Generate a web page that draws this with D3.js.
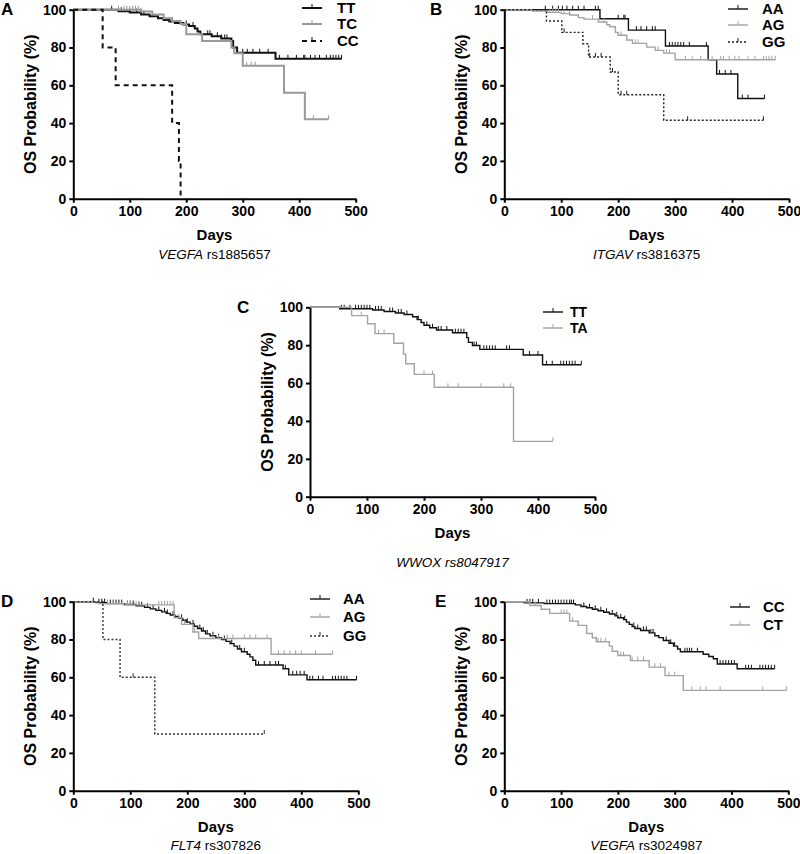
<!DOCTYPE html>
<html><head><meta charset="utf-8">
<script src="https://cdn.jsdelivr.net/npm/d3@7"></script>
<style>
body{margin:0;background:#fff;}
text{font-family:"Liberation Sans",Arial,sans-serif;}
</style></head>
<body><svg id="c" width="800" height="854"></svg>
<script>
// ---------- DATA (days, OS probability %) ----------
const xTicks = [0,100,200,300,400,500];
const yTicks = [0,20,40,60,80,100];

// Panel A: VEGFA rs1885657
const aTT_events = [[80,99.2],[100,98.5],[120,97.5],[135,96.5],[150,95.5],[160,94.5],[170,93.8],[180,93],[195,92.2],[205,91.4],[215,90],[220,88.5],[225,87],[245,86],[262,84.8],[280,83.5],[283,80],[290,77.2],[358,74]];
const aTT_censor = [68,85,100,112,125,140,175,200,212,238,242,255,262,268,272,300,308,318,330,345,365,380,395,408,410,420,428,436,448,455,460,465,470,475];
const aTT_end = 475;
const aTC_events = [[120,99],[140,97.5],[160,95.5],[175,94],[190,92.5],[200,87],[228,83.5],[280,80],[285,77],[300,70.3],[373,56],[410,42]];
const aTC_censor = [80,90,95,100,105,110,115,120,307,315,322,425,452];
const aTC_end = 452;
const aCC_events = [[52,80],[75,60],[175,40],[187,20],[190,0]];
const aCC_censor = [];
const aCC_end = 190;

// Panel B: ITGAV rs3816375
const bAA_events = [[168,95.2],[218,89.2],[283,80.8],[358,73.5],[373,66],[410,53]];
const bAA_censor = [72,85,95,102,110,120,130,140,160,165,200,210,212,232,240,250,260,265,290,295,300,305,310,315,325,355,378,388,398,418,428,457];
const bAA_end = 457;
const bAG_events = [[50,99.3],[75,98.6],[100,97.9],[115,97.2],[130,95.8],[140,95],[165,93.5],[180,92],[185,91],[195,88],[200,86.5],[215,84],[225,82.2],[250,80.2],[265,78.5],[280,77],[300,73.5]];
const bAG_censor = [80,85,90,95,105,115,155,175,205,230,235,270,285,290,318,330,345,365,380,385,395,405,412,428,440,455,460,465,470,476];
const bAG_end = 476;
const bGG_events = [[74,94],[101,88],[138,82],[148,75],[186,67],[200,55],[280,41.5]];
const bGG_censor = [105,150,160,170,190,205,215,322,455];
const bGG_end = 455;

// Panel C: WWOX rs8047917
const cTT_events = [[52,99.2],[110,98.6],[130,97.8],[150,97],[165,96.2],[180,95],[188,93.5],[195,92],[200,90.5],[210,89.2],[222,88],[250,86.6],[275,84],[278,81.5],[285,79.8],[298,77.8],[374,74.8],[408,69.7]];
const cTT_censor = [55,60,70,80,85,90,95,100,105,115,120,125,140,145,155,160,170,190,205,215,225,230,240,255,260,265,270,288,292,305,310,315,320,325,345,350,385,400,415,425,440,445,450,455,460,465,476];
const cTT_end = 476;
const cTA_events = [[73,95.6],[101,91.3],[114,86.1],[147,81],[164,75.3],[168,70.2],[183,64.6],[218,57.8],[357,29.2]];
const cTA_censor = [90,120,130,200,215,242,260,300,340,352,426];
const cTA_end = 426;

// Panel D: FLT4 rs307826
const dAA_events = [[40,99.5],[60,99],[90,98.5],[110,97.8],[125,97],[135,96.2],[145,95.4],[155,94.6],[163,93.8],[170,93],[178,92.2],[185,91.2],[192,90.2],[198,89.2],[205,88.2],[212,87],[218,85.8],[225,84.5],[232,83],[240,82],[250,81],[260,80],[268,79],[275,77.8],[282,76.5],[288,75],[295,73.5],[305,72.2],[310,70.8],[315,69],[320,66.5],[368,64.5],[378,61.3],[410,58.7]];
const dAA_censor = [35,45,50,55,65,70,75,80,85,95,100,105,115,120,130,140,150,160,165,175,190,200,210,222,228,235,245,255,265,278,292,300,325,335,345,355,360,372,385,392,398,405,415,420,430,438,455,460,465,470,475,480,497];
const dAA_end = 497;
const dAG_events = [[45,99],[88,98.3],[177,91.5],[190,88],[210,84],[220,80.5],[347,72.2]];
const dAG_censor = [60,70,95,100,110,115,150,155,160,165,170,175,185,195,213,245,255,270,280,300,310,320,340,360,370,380,390,400,425,455];
const dAG_end = 455;
const dGG_events = [[52,80],[82,60],[143,30]];
const dGG_censor = [105,335];
const dGG_end = 335;

// Panel E: VEGFA rs3024987
const eCC_events = [[35,99.4],[70,99],[125,98.3],[135,97.5],[145,96.8],[155,96],[165,95.2],[175,94.4],[185,93.5],[195,92.5],[200,91.5],[210,90.5],[215,89.2],[220,88],[225,86.8],[230,85.8],[240,84.8],[255,83.5],[265,82],[272,81],[280,79.5],[290,78],[298,76.5],[305,75],[310,73.5],[350,72.2],[360,71],[368,69.8],[375,67],[410,64.5]];
const eCC_censor = [40,45,50,60,75,80,85,90,95,100,105,110,115,118,122,140,150,160,170,180,190,198,205,212,228,235,245,250,258,262,285,293,300,318,322,326,330,340,380,385,390,395,400,405,425,430,435,450,455,460,465,470,476];
const eCC_end = 476;
const eCT_events = [[45,98],[65,96],[80,93.8],[115,89.7],[130,87.5],[145,83.2],[155,80.9],[162,78.8],[185,76.5],[190,73.8],[200,71.5],[222,68.8],[255,65.4],[283,60.9],[315,53.1]];
const eCT_censor = [55,100,105,110,120,165,170,178,205,210,225,235,245,265,275,290,300,330,345,355,380,455,497];
const eCT_end = 497;

// ---------- LAYOUT / STYLE ----------
const BLACK = "#111", GRAY = "#a3a3a3", GRAYA = "#999";
const panels = [
  {label:"A", lx:1, ly:15, x0:73.3, x1:355.7, yT:9.7, yB:198.7, gene:"VEGFA", rs:" rs1885657", allItalic:false,
   leg:{x1:302,x2:322,tx:337,ys:[8,24,41],fs:15}, yt:30, subDy:60,
   series:[
    {name:"TT",ev:aTT_events,ce:aTT_censor,end:aTT_end,color:BLACK,w:2,dash:null},
    {name:"TC",ev:aTC_events,ce:aTC_censor,end:aTC_end,color:GRAYA,w:2,dash:null},
    {name:"CC",ev:aCC_events,ce:aCC_censor,end:aCC_end,color:BLACK,w:2,dash:"5,4"}]},
  {label:"B", lx:430, ly:15, x0:504.3, x1:789, yT:9.7, yB:198.7, gene:"ITGAV", rs:" rs3816375", allItalic:false,
   leg:{x1:728,x2:748,tx:762,ys:[9,25,42],fs:15}, yt:461, subDy:60,
   series:[
    {name:"AA",ev:bAA_events,ce:bAA_censor,end:bAA_end,color:BLACK,w:1.4,dash:null},
    {name:"AG",ev:bAG_events,ce:bAG_censor,end:bAG_end,color:GRAY,w:1.4,dash:null},
    {name:"GG",ev:bGG_events,ce:bGG_censor,end:bGG_end,color:"#222",w:1.4,dash:"2,2"}]},
  {label:"C", lx:237, ly:313, x0:310, x1:595, yT:307.3, yB:496.7, gene:"WWOX", rs:" rs8047917", allItalic:true,
   leg:{x1:543,x2:563,tx:570,ys:[312,328],fs:14}, yt:267, subDy:70,
   series:[
    {name:"TT",ev:cTT_events,ce:cTT_censor,end:cTT_end,color:BLACK,w:1.4,dash:null},
    {name:"TA",ev:cTA_events,ce:cTA_censor,end:cTA_end,color:GRAY,w:1.4,dash:null}]},
  {label:"D", lx:1, ly:607, x0:73.3, x1:358.3, yT:601.7, yB:790.7, gene:"FLT4", rs:" rs307826", allItalic:false,
   leg:{x1:310,x2:330,tx:343,ys:[599,617,636],fs:15}, yt:30, subDy:59,
   series:[
    {name:"AA",ev:dAA_events,ce:dAA_censor,end:dAA_end,color:BLACK,w:1.4,dash:null},
    {name:"AG",ev:dAG_events,ce:dAG_censor,end:dAG_end,color:GRAY,w:1.4,dash:null},
    {name:"GG",ev:dGG_events,ce:dGG_censor,end:dGG_end,color:"#333",w:1.4,dash:"2,2"}]},
  {label:"E", lx:435, ly:607, x0:504.3, x1:788.3, yT:601.7, yB:790.7, gene:"VEGFA", rs:" rs3024987", allItalic:false,
   leg:{x1:730,x2:750,tx:763,ys:[607,625],fs:15}, yt:461, subDy:59,
   series:[
    {name:"CC",ev:eCC_events,ce:eCC_censor,end:eCC_end,color:BLACK,w:1.4,dash:null},
    {name:"CT",ev:eCT_events,ce:eCT_censor,end:eCT_end,color:GRAY,w:1.4,dash:null}]}
];

const svg = d3.select("#c");
const FONT = "'Liberation Sans',Arial,sans-serif";

function survAt(ev, t){
  let s = 100;
  for(const e of ev){ if(e[0] <= t) s = e[1]; }
  return s;
}

panels.forEach(p => {
  const x = d3.scaleLinear().domain([0,500]).range([p.x0,p.x1]);
  const y = d3.scaleLinear().domain([0,100]).range([p.yB,p.yT]);
  const g = svg.append("g");

  // curves
  const line = d3.line().x(d=>x(d[0])).y(d=>y(d[1])).curve(d3.curveStepAfter);
  p.series.forEach(s => {
    const pts = [[0,100], ...s.ev];
    const last = pts[pts.length-1][1];
    if (s.end > pts[pts.length-1][0]) pts.push([s.end,last]);
    g.append("path").attr("d", line(pts)).attr("fill","none")
      .attr("stroke", s.color).attr("stroke-width", s.w)
      .attr("stroke-dasharray", s.dash);
    g.selectAll(null).data(s.ce).enter().append("line")
      .attr("x1", d=>x(d)).attr("x2", d=>x(d))
      .attr("y1", d=>y(survAt(s.ev,d))).attr("y2", d=>y(survAt(s.ev,d))-4)
      .attr("stroke", s.color).attr("stroke-width", 1);
  });

  // axes
  const xa = g.append("g").attr("transform",`translate(0,${p.yB})`)
    .call(d3.axisBottom(x).tickValues(xTicks).tickSize(4).tickSizeOuter(0).tickPadding(3));
  const ya = g.append("g").attr("transform",`translate(${p.x0},0)`)
    .call(d3.axisLeft(y).tickValues(yTicks).tickSize(4).tickSizeOuter(0).tickPadding(3));
  [xa,ya].forEach(a => {
    a.select(".domain").attr("stroke","#000").attr("stroke-width",2);
    a.selectAll(".tick line").attr("stroke","#000").attr("stroke-width",2);
    a.selectAll(".tick text").attr("font-family",FONT).attr("font-size",14)
      .attr("font-weight","bold").attr("fill","#000");
  });

  // axis titles
  g.append("text").attr("x",(p.x0+p.x1)/2).attr("y",p.yB+41).attr("text-anchor","middle")
    .attr("font-family",FONT).attr("font-size",15).attr("font-weight","bold").text("Days");
  g.append("text").attr("transform",`translate(${p.yt},${(p.yT+p.yB)/2}) rotate(-90)`)
    .attr("dy","0.35em").attr("text-anchor","middle")
    .attr("font-family",FONT).attr("font-size",16).attr("font-weight","bold").text("OS Probability (%)");
  const sub = g.append("text").attr("x",(p.x0+p.x1)/2).attr("y", p.yB+p.subDy)
    .attr("text-anchor","middle").attr("font-family",FONT).attr("font-size",13.5);
  sub.append("tspan").attr("font-style","italic").text(p.gene);
  sub.append("tspan").attr("font-style", p.allItalic ? "italic" : "normal").text(p.rs);

  // panel label
  g.append("text").attr("x",p.lx).attr("y",p.ly).attr("font-family",FONT)
    .attr("font-size",17).attr("font-weight","bold").text(p.label);

  // legend
  p.series.forEach((s,i) => {
    const ly = p.leg.ys[i];
    g.append("line").attr("x1",p.leg.x1).attr("x2",p.leg.x2).attr("y1",ly).attr("y2",ly)
      .attr("stroke",s.color).attr("stroke-width",s.w).attr("stroke-dasharray",s.dash);
    const mx = (p.leg.x1+p.leg.x2)/2;
    g.append("line").attr("x1",mx).attr("x2",mx).attr("y1",ly).attr("y2",ly-4)
      .attr("stroke",s.color).attr("stroke-width",1);
    g.append("text").attr("x",p.leg.tx).attr("y",ly).attr("dy","0.35em")
      .attr("font-family",FONT).attr("font-size",p.leg.fs).attr("font-weight","bold").text(s.name);
  });
});
</script></body></html>
